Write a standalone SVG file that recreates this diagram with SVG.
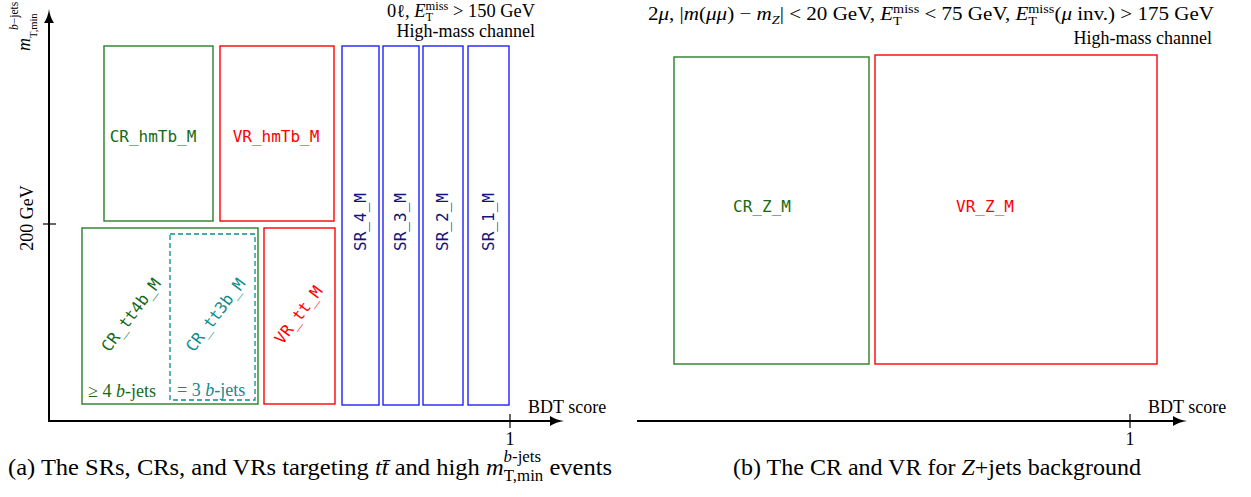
<svg xmlns="http://www.w3.org/2000/svg" width="1251" height="497" viewBox="0 0 1251 497">
<style>
.t{font-family:"Liberation Serif","Times New Roman",serif;fill:#000}
.i{font-style:italic}
.mono{font-family:"DejaVu Sans Mono","Liberation Mono",monospace;font-size:16px}
.ax{stroke:#000;stroke-width:2;fill:none}
.tick{stroke:#000;stroke-width:1.2}
.g{stroke:#2a7f2a;fill:none;stroke-width:1.4}
.r{stroke:#ff0000;fill:none;stroke-width:1.4}
.b{stroke:#2020ff;fill:none;stroke-width:1.4}
.c{stroke:#0e8c8c;fill:none;stroke-width:1.3;stroke-dasharray:5 3}
.gt{fill:#156a15}
.rt{fill:#ff0000}
.bt{fill:#12127e}
.ct{fill:#0e8c8c}
</style>
<defs>
<marker id="arr" markerUnits="userSpaceOnUse" markerWidth="16" markerHeight="12" refX="3" refY="5" orient="auto">
<path d="M0,0 Q6,4 14,5 Q6,6 0,10 z" fill="#000"/>
</marker>
</defs>

<g id="connectors">
<line class="ax" x1="49" y1="422" x2="49" y2="20" marker-end="url(#arr)"/>
<line class="ax" x1="48" y1="421" x2="553" y2="421" marker-end="url(#arr)"/>
<line class="tick" x1="43" y1="224" x2="56" y2="224"/>
<line class="tick" x1="510" y1="414" x2="510" y2="428"/>
<line class="ax" x1="637" y1="421" x2="1176" y2="421" marker-end="url(#arr)"/>
<line class="tick" x1="1130" y1="414" x2="1130" y2="428"/>
</g>

<g id="axis-labels">
<g transform="rotate(-90)">
<text class="t i" x="-51" y="30" font-size="18">m</text>
<text class="t" x="-38" y="36.5" font-size="10.5">T,min</text>
<text class="t" x="-30" y="18" font-size="11.5"><tspan class="i">b</tspan>−jets</text>
<text class="t" x="-218" y="33" font-size="18" text-anchor="middle">200 GeV</text>
</g>
<text class="t" x="528" y="413" font-size="18">BDT score</text>
<text class="t" x="510" y="445" font-size="18" text-anchor="middle">1</text>
<text class="t" x="1148" y="413" font-size="18">BDT score</text>
<text class="t" x="1130" y="445" font-size="18" text-anchor="middle">1</text>
</g>

<g id="header-a">
<text class="t" x="535" y="17" font-size="18.5" text-anchor="end" textLength="148" lengthAdjust="spacingAndGlyphs">0ℓ, <tspan class="i">E</tspan><tspan font-size="12.5" dy="4">T</tspan><tspan font-size="12.5" dx="-7.6" dy="-11">miss</tspan><tspan dy="7"> &gt; 150 GeV</tspan></text>
<text class="t" x="535" y="37" font-size="18" text-anchor="end">High-mass channel</text>
</g>

<g id="header-b">
<text class="t" x="1214" y="20" font-size="18.5" text-anchor="end" textLength="566" lengthAdjust="spacingAndGlyphs">2<tspan class="i">μ</tspan>, |<tspan class="i">m</tspan>(<tspan class="i">μμ</tspan>) − <tspan class="i">m</tspan><tspan class="i" font-size="12.5" dy="4">Z</tspan><tspan dy="-4">| &lt; 20 GeV, </tspan><tspan class="i">E</tspan><tspan font-size="12.5" dy="5">T</tspan><tspan font-size="12.5" dx="-7.6" dy="-12">miss</tspan><tspan dy="7"> &lt; 75 GeV, </tspan><tspan class="i">E</tspan><tspan font-size="12.5" dy="5">T</tspan><tspan font-size="12.5" dx="-7.6" dy="-12">miss</tspan><tspan dy="7">(</tspan><tspan class="i">μ</tspan> inv.) &gt; 175 GeV</text>
<text class="t" x="1212" y="44" font-size="18" text-anchor="end">High-mass channel</text>
</g>

<g id="CR_hmTb_M">
<rect class="g" x="104" y="46" width="109" height="175"/>
<text class="mono gt" x="153" y="142" text-anchor="middle">CR_hmTb_M</text>
</g>
<g id="VR_hmTb_M">
<rect class="r" x="220" y="46" width="114" height="175"/>
<text class="mono rt" x="276" y="142" text-anchor="middle">VR_hmTb_M</text>
</g>
<g id="SR_4_M">
<rect class="b" x="342" y="46" width="37" height="359"/>
<text class="mono bt" transform="translate(360,222) rotate(-90)" x="0" y="5.5" text-anchor="middle">SR_4_M</text>
</g>
<g id="SR_3_M">
<rect class="b" x="383" y="46" width="36" height="359"/>
<text class="mono bt" transform="translate(400,222) rotate(-90)" x="0" y="5.5" text-anchor="middle">SR_3_M</text>
</g>
<g id="SR_2_M">
<rect class="b" x="423" y="46" width="40" height="359"/>
<text class="mono bt" transform="translate(442,222) rotate(-90)" x="0" y="5.5" text-anchor="middle">SR_2_M</text>
</g>
<g id="SR_1_M">
<rect class="b" x="468" y="46" width="41" height="359"/>
<text class="mono bt" transform="translate(488,222) rotate(-90)" x="0" y="5.5" text-anchor="middle">SR_1_M</text>
</g>
<g id="CR_tt4b_M">
<rect class="g" x="82" y="228" width="176" height="176"/>
<text class="mono gt" transform="translate(131,315) rotate(-53)" x="0" y="5.5" text-anchor="middle">CR_tt4b_M</text>
<text class="t gt" x="88" y="397" font-size="18">≥ 4 <tspan class="i">b</tspan>-jets</text>
</g>
<g id="CR_tt3b_M">
<rect class="c" x="170" y="234" width="85" height="166"/>
<text class="mono ct" transform="translate(215.5,315) rotate(-53)" x="0" y="5.5" text-anchor="middle">CR_tt3b_M</text>
<text class="t ct" x="177" y="396" font-size="18">= 3 <tspan class="i">b</tspan>-jets</text>
</g>
<g id="VR_tt_M">
<rect class="r" x="264" y="228" width="71" height="176"/>
<text class="mono rt" transform="translate(298.5,315) rotate(-53)" x="0" y="5.5" text-anchor="middle">VR_tt_M</text>
</g>

<g id="CR_Z_M">
<rect class="g" x="674" y="57" width="195" height="307"/>
<text class="mono gt" x="762" y="212" text-anchor="middle">CR_Z_M</text>
</g>
<g id="VR_Z_M">
<rect class="r" x="875" y="55" width="282" height="309"/>
<text class="mono rt" x="985" y="212" text-anchor="middle">VR_Z_M</text>
</g>

<g id="captions">
<text class="t" x="8" y="475" font-size="24" textLength="604" lengthAdjust="spacingAndGlyphs">(a) The SRs, CRs, and VRs targeting <tspan class="i">tt̄</tspan> and high <tspan class="i">m</tspan><tspan font-size="16.5" dy="-13"><tspan class="i">b</tspan>-jets</tspan><tspan font-size="16.5" dx="-36.5" dy="19">T,min</tspan><tspan dy="-6"> events</tspan></text>
<text class="t" x="937" y="475" font-size="24" text-anchor="middle">(b) The CR and VR for <tspan class="i">Z</tspan>+jets background</text>
</g>
</svg>
